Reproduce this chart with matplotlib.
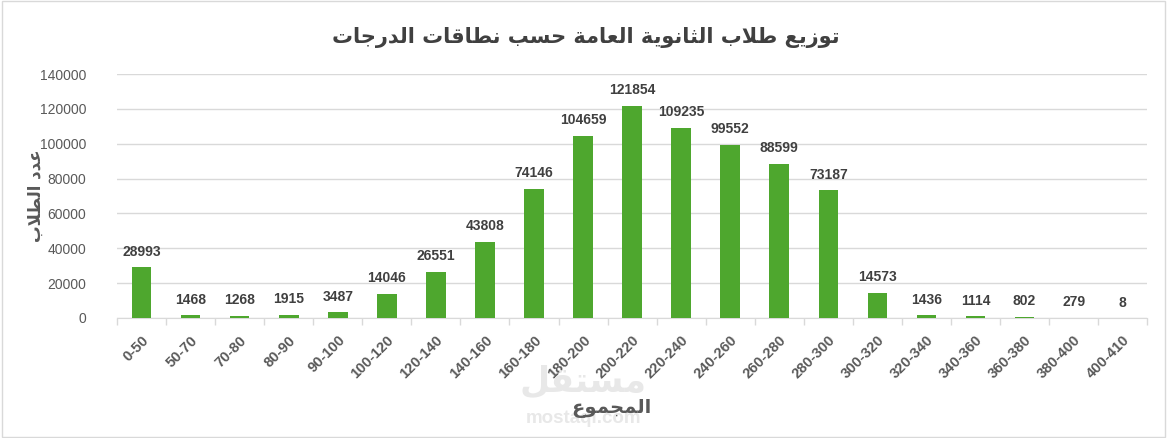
import matplotlib
matplotlib.use('Agg')
import matplotlib.pyplot as plt
from matplotlib.patches import Rectangle

# data
ranges = ['0-50', '50-70', '70-80', '80-90', '90-100', '100-120', '120-140', '140-160',
          '160-180', '180-200', '200-220', '220-240', '240-260', '260-280', '280-300',
          '300-320', '320-340', '340-360', '360-380', '380-400', '400-410']
students = [28993, 1468, 1268, 1915, 3487, 14046, 26551, 43808, 74146, 104659, 121854,
            109235, 99552, 88599, 73187, 14573, 1436, 1114, 802, 279, 8]
yticks = [0, 20000, 40000, 60000, 80000, 100000, 120000, 140000]

title = 'توزيع طلاب الثانوية العامة حسب نطاقات الدرجات'
ylabel = 'عدد الطلاب'
xlabel = 'المجموع'

# --- simple arabic shaping (presentation forms), no reshaper available
FORMS = {
    'ا': (0xFE8D, 0xFE8E, None, None), 'ب': (0xFE8F, 0xFE90, 0xFE91, 0xFE92),
    'ة': (0xFE93, 0xFE94, None, None), 'ت': (0xFE95, 0xFE96, 0xFE97, 0xFE98),
    'ث': (0xFE99, 0xFE9A, 0xFE9B, 0xFE9C), 'ج': (0xFE9D, 0xFE9E, 0xFE9F, 0xFEA0),
    'ح': (0xFEA1, 0xFEA2, 0xFEA3, 0xFEA4), 'د': (0xFEA9, 0xFEAA, None, None),
    'ر': (0xFEAD, 0xFEAE, None, None), 'ز': (0xFEAF, 0xFEB0, None, None),
    'س': (0xFEB1, 0xFEB2, 0xFEB3, 0xFEB4), 'ط': (0xFEC1, 0xFEC2, 0xFEC3, 0xFEC4),
    'ع': (0xFEC9, 0xFECA, 0xFECB, 0xFECC), 'ق': (0xFED5, 0xFED6, 0xFED7, 0xFED8),
    'ل': (0xFEDD, 0xFEDE, 0xFEDF, 0xFEE0), 'م': (0xFEE1, 0xFEE2, 0xFEE3, 0xFEE4),
    'ن': (0xFEE5, 0xFEE6, 0xFEE7, 0xFEE8), 'ه': (0xFEE9, 0xFEEA, 0xFEEB, 0xFEEC),
    'و': (0xFEED, 0xFEEE, None, None), 'ي': (0xFEF1, 0xFEF2, 0xFEF3, 0xFEF4),
}


def shape(text):
    out = []
    i = 0
    n = len(text)
    while i < n:
        ch = text[i]
        if ch not in FORMS:
            out.append(ch)
            i += 1
            continue
        prev = text[i - 1] if i > 0 else ''
        joined_prev = prev in FORMS and FORMS[prev][2] is not None
        if ch == 'ل' and i + 1 < n and text[i + 1] == 'ا':
            out.append(chr(0xFEFC if joined_prev else 0xFEFB))
            i += 2
            continue
        nxt = text[i + 1] if i + 1 < n else ''
        joined_next = FORMS[ch][2] is not None and nxt in FORMS
        iso, fin, ini, med = FORMS[ch]
        if joined_prev and joined_next:
            c = med
        elif joined_prev:
            c = fin
        elif joined_next:
            c = ini
        else:
            c = iso
        out.append(chr(c))
        i += 1
    return ''.join(out)[::-1]


plt.rcParams['font.family'] = ['Liberation Sans', 'DejaVu Sans']

fig = plt.figure(figsize=(11.67, 4.38), dpi=100)
ax = fig.add_axes([0.1003, 0.274, 0.8827, 0.557])

x = list(range(len(ranges)))
ax.bar(x, students, width=0.4, color='#4EA72E', zorder=3)

for xi, v in zip(x, students):
    ax.annotate(str(v), (xi, v), xytext=(0, 6), textcoords='offset points',
                ha='center', va='bottom', fontsize=10, fontweight='bold', color='#404040')

ax.set_ylim(0, 140000)
ax.set_xlim(-0.5, len(ranges) - 0.5)
ax.set_yticks(yticks)
ax.set_yticklabels([str(t) for t in yticks], fontsize=10, color='#595959')
ax.yaxis.grid(True, color='#D9D9D9', linewidth=1, zorder=0)
ax.tick_params(axis='y', length=0, pad=22)

ax.set_xticks(x)
ax.set_xticklabels(ranges, rotation=45, ha='right', rotation_mode='anchor',
                   fontsize=10.5, fontweight='bold', color='#595959')
ax.set_xticks([i - 0.5 for i in range(len(ranges) + 1)], minor=True)
ax.tick_params(axis='x', which='major', length=0, pad=11)
ax.tick_params(axis='x', which='minor', length=5, color='#D9D9D9', width=1)

for s in ['top', 'right', 'left']:
    ax.spines[s].set_visible(False)
ax.spines['bottom'].set_color('#D9D9D9')

fig.text(0.502, 0.915, shape(title), ha='center', va='center', fontsize=15,
         fontweight='bold', color='#404040', family=['DejaVu Sans'])
fig.text(0.031, 0.553, shape(ylabel), ha='center', va='center', rotation=90,
         fontsize=12, fontweight='bold', color='#595959', family=['DejaVu Sans'])

# watermark
fig.text(0.4996, 0.128, shape('مستقل'), ha='center', va='center', fontsize=25,
         fontweight='bold', color='#E8E8E8', family=['DejaVu Sans'], zorder=0)
fig.text(0.4996, 0.045, 'mostaql.com', ha='center', va='center', fontsize=13.5,
         fontweight='bold', color='#E8E8E8', zorder=0)

fig.text(0.524, 0.068, shape(xlabel), ha='center', va='center', fontsize=14,
         fontweight='bold', color='#595959', family=['DejaVu Sans'])

fig.patches.append(Rectangle((0.002, 0.003), 0.996, 0.994, transform=fig.transFigure,
                             fill=False, edgecolor='#D9D9D9', linewidth=1))

fig.savefig('out.png', dpi=100)
